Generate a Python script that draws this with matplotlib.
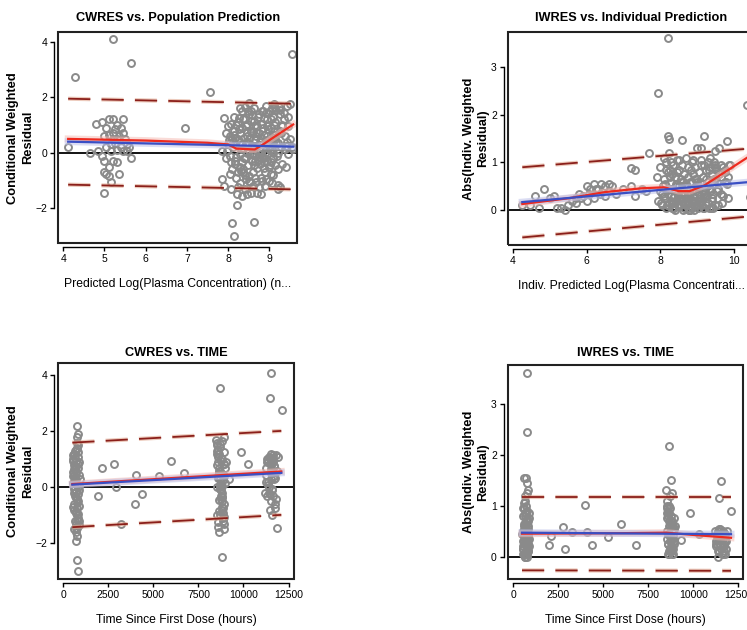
import numpy as np
import matplotlib
matplotlib.use("Agg")
import matplotlib.pyplot as plt
from matplotlib.patches import Rectangle

plt.rcParams['font.family'] = ['Liberation Sans', 'DejaVu Sans']

# ---- Panel 1: CWRES vs PRED ----
pred_x = [4.28, 5.2, 5.65, 7.57, 9.55, 6.95, 4.12, 5.0, 8.1, 8.15, 8.63, 8.22,
          4.65, 4.8, 4.95, 5.05, 5.1, 5.2, 5.3, 5.45, 5.4, 5.0, 5.1, 5.2, 5.3, 5.35, 5.5, 5.15,
          5.25, 5.05, 5.4, 5.55, 5.6, 5.65, 5.0, 4.95, 5.1, 5.2, 5.3, 5.0, 5.05, 5.1, 5.15, 5.35,
          5.15, 5.3, 5.45, 5.55, 4.85, 5.25, 5.35, 5.2, 5.45,
          7.85, 7.9, 7.95, 7.85, 7.9, 8.0, 8.05, 8.0, 8.05, 8.1, 8.08, 8.15, 8.15, 8.12, 8.18, 8.2,
          8.22, 8.25, 8.25, 8.28, 8.3, 8.3, 8.33, 8.35, 8.35, 8.38, 8.4, 8.4, 8.42, 8.45, 8.45, 8.48,
          8.5, 8.5, 8.52, 8.55, 8.55, 8.58, 8.6, 8.6, 8.62, 8.65, 8.65, 8.68, 8.7, 8.7, 8.72, 8.75,
          8.75, 8.78, 8.8, 8.8, 8.82, 8.85, 8.85, 8.88, 8.9, 8.9, 8.92, 8.95, 8.95, 8.98, 9.0, 9.0,
          9.02, 9.05, 9.05, 9.08, 9.1, 9.12, 9.15, 9.15, 9.18, 9.2, 9.22, 9.25, 9.25, 9.28, 9.3, 9.35,
          9.38, 9.4, 9.42, 9.45, 9.45, 9.5, 9.55, 9.58, 9.5, 9.25, 9.2, 8.45, 8.55, 8.35, 8.2, 8.4,
          8.6, 8.9, 9.1, 8.3, 8.7, 9.0, 8.5, 8.8, 9.1, 8.65, 8.95, 8.25, 8.45,
          8.32, 8.43, 8.57, 8.67, 8.77, 8.87, 8.97, 9.07, 9.17, 8.37, 8.47, 8.63, 8.73, 8.83, 8.93,
          9.03, 9.13, 8.28, 8.52, 8.62, 8.78, 8.88, 9.02, 9.12, 9.22, 8.18, 8.42, 8.58, 8.68, 8.82,
          8.92, 9.08, 9.32, 9.37, 9.43, 8.1, 8.05, 7.98, 8.36, 8.74, 9.06, 9.27, 8.55, 8.85, 9.15]
pred_y = [2.75, 4.1, 3.22, 2.18, 3.57, 0.88, 0.22, -1.45, -2.55, -3.0, -2.5, -1.9,
          0.0, 1.05, 1.1, 0.9, 1.2, 1.2, 1.0, 1.2, 0.9, 0.6, 0.65, 0.7, 0.5, 0.6, 0.5, 0.3,
          0.35, 0.2, 0.2, 0.3, 0.2, -0.2, -0.3, -0.1, -0.5, -0.3, -0.35, -0.7, -0.75, -0.85, -1.05, -0.75,
          0.05, 0.1, 0.05, 0.05, 0.05, 0.85, 0.45, 0.5, 0.7,
          0.05, 1.25, 0.7, -0.95, -1.2, 0.95, 0.6, 0.3, -0.1, -0.6, -1.3, 1.3, 0.8, 0.2, -0.3, -0.9,
          -1.5, 1.1, 0.5, -0.05, -0.5, -1.1, 1.5, 0.9, 0.3, -0.2, -0.8, -1.3, 1.2, 0.6, 0.0, -0.45,
          1.8, -1.0, 1.4, 0.8, 0.2, -0.3, -0.7, -1.2, 1.6, 1.0, 0.45, -0.1, -0.55, -1.45, 1.3, 0.7,
          0.1, -0.4, -0.9, -1.5, 1.5, 0.9, 0.3, -0.2, -0.7, -1.2, 1.7, 1.2, 0.6, 0.0, -0.5, -1.0,
          1.5, 0.9, 0.4, -0.2, -0.8, 1.75, 1.1, 0.5, -0.1, -0.6, -1.3, 1.4, 0.8, 0.2, -0.4, 1.2,
          0.6, -0.5, 1.7, 0.95, -0.05, 0.5, 0.2, 0.15, 1.75, -1.25, -1.15, -1.5, -1.45, -1.55, 1.0, 1.65,
          0.0, 0.0, 0.0, 0.7, 0.25, 0.25, 0.5, 0.55, 1.3, -0.9, -0.3, -0.7, 1.05,
          0.15, 0.35, -0.05, 0.6, 0.4, -0.35, 0.85, 0.15, 0.35, -0.6, 0.75, 1.15, -0.25, 1.05, 0.45,
          -0.75, 0.65, 0.4, -0.85, 0.25, 0.05, 1.25, -0.45, 1.0, 0.0, -0.4, -0.2, 1.35, -1.05, -1.0,
          1.45, 0.3, 0.95, 0.15, 0.4, 0.5, -0.75, 0.05, 1.2, -0.15, -1.1, 1.55, 0.75, 1.5, 1.6]
pred_x_dense = [8.02, 8.08, 8.14, 8.2, 8.26, 8.32, 8.38, 8.44, 8.5, 8.56,
                8.62, 8.68, 8.74, 8.8, 8.86, 8.92, 8.98, 9.04, 9.1, 9.16,
                8.24, 8.34, 8.44, 8.54, 8.64, 8.74, 8.84, 8.94, 9.04, 9.14,
                8.16, 8.26, 8.36, 8.46, 8.56, 8.66, 8.76, 8.86, 8.96, 9.06,
                8.41, 8.51, 8.61, 8.71, 8.81, 8.91, 9.01, 9.11, 9.21, 9.31,
                9.36, 9.41, 9.46, 9.24, 9.29, 8.06, 8.11, 7.96, 8.29, 8.49]
pred_y_dense = [0.45, -0.35, 0.65, -0.15, 0.85, -0.65, 0.55, -0.95, 0.05, 1.15,
                -0.45, 0.75, -0.25, 1.05, -0.55, 0.35, 1.45, -0.35, 0.65, 1.55,
                -1.25, -0.35, 0.95, -1.05, 0.25, -1.25, -0.15, 0.95, 1.2, -0.45,
                0.55, 1.25, -0.7, 0.4, 1.5, -0.3, 1.4, 0.65, 0.3, 1.6,
                -0.2, 0.1, 0.75, 0.95, -0.05, -0.95, 0.1, 0.8, 0.35, 1.0,
                1.45, 0.25, 1.3, 1.65, 0.7, 1.05, 0.4, -0.2, 1.6, 1.5]
pred_lin_x = [4.12, 9.58]
pred_lin_y = [0.40, 0.22]
pred_loess_x = [4.12, 6.0, 7.5, 8.0, 8.2, 8.65, 8.85, 9.1, 9.58]
pred_loess_y = [0.50, 0.44, 0.36, 0.30, 0.15, 0.12, 0.30, 0.55, 1.02]
pred_up_x = [4.12, 9.58]
pred_up_y = [1.95, 1.77]
pred_lo_x = [4.12, 9.58]
pred_lo_y = [-1.15, -1.32]

# ---- Panel 2: |IWRES| vs IPRED ----
ipred_x = [8.2, 7.93, 10.35, 10.45, 8.2, 8.25, 8.6, 9.2, 9.8, 9.0, 9.1, 7.7, 7.2, 7.3, 9.5, 9.6,
           4.25, 4.45, 4.6, 4.7, 4.85, 5.0, 5.1, 5.2, 5.4, 5.3, 5.5, 5.6, 5.7, 5.8, 5.9, 6.0, 6.1,
           6.2, 6.3, 6.4, 6.35, 6.5, 6.6, 6.7, 6.8, 6.5, 6.2, 6.0, 7.0, 7.2, 7.3, 7.5, 7.6, 5.7,
           6.05, 6.25, 6.6, 5.85,
           7.9, 7.95, 8.0, 8.0, 8.05, 8.1, 8.1, 8.15, 8.15, 8.2, 8.2, 8.25, 8.25, 8.3, 8.3, 8.35,
           8.35, 8.4, 8.4, 8.45, 8.45, 8.5, 8.5, 8.55, 8.55, 8.6, 8.6, 8.65, 8.65, 8.7, 8.7, 8.75,
           8.75, 8.8, 8.8, 8.85, 8.85, 8.9, 8.9, 8.95, 8.95, 9.0, 9.0, 9.05, 9.05, 9.1, 9.1, 9.15,
           9.15, 9.2, 9.2, 9.25, 9.25, 9.3, 9.3, 9.35, 9.35, 9.4, 9.4, 9.45, 9.5, 9.5, 9.55, 9.6,
           9.65, 9.7, 9.75, 9.8, 9.85, 9.9, 8.12, 8.22, 8.32, 8.42, 8.52, 8.62, 8.72, 8.82, 8.92,
           9.02, 9.12, 9.22, 9.32, 9.42, 8.18, 8.28, 8.38, 8.48, 8.58, 8.68, 8.78, 8.88, 8.98, 9.08,
           9.18, 9.28, 9.38, 9.48, 8.07, 8.33, 8.57, 8.83, 9.07, 9.33, 9.58, 9.68, 9.78, 8.47, 8.77,
           9.03, 9.23, 8.27, 8.63, 8.93, 9.13, 9.43]
ipred_y = [3.6, 2.45, 2.2, 0.28, 1.55, 1.5, 1.48, 1.55, 1.45, 1.3, 1.3, 1.2, 0.88, 0.85, 1.25, 1.3,
           0.1, 0.1, 0.3, 0.05, 0.45, 0.25, 0.3, 0.05, 0.0, 0.05, 0.1, 0.2, 0.25, 0.35, 0.3, 0.5, 0.45,
           0.55, 0.45, 0.55, 0.35, 0.5, 0.4, 0.5, 0.35, 0.3, 0.25, 0.2, 0.45, 0.5, 0.3, 0.45, 0.4, 0.15,
           0.35, 0.45, 0.55, 0.25,
           0.7, 0.2, 0.9, 0.4, 0.1, 0.65, 0.3, 1.0, 0.05, 0.8, 0.45, 1.2, 0.15, 0.6, 0.3, 0.95,
           0.05, 0.7, 0.4, 1.05, 0.2, 0.85, 0.5, 0.1, 0.65, 0.35, 0.95, 0.05, 0.75, 0.25, 0.55, 0.9,
           0.15, 0.6, 0.35, 1.0, 0.05, 0.75, 0.45, 0.2, 0.9, 0.6, 0.1, 0.8, 0.35, 1.05, 0.15, 0.7,
           0.4, 0.95, 0.05, 0.85, 0.3, 0.6, 0.15, 1.1, 0.45, 0.75, 0.25, 0.55, 0.9, 0.1, 0.4, 0.75,
           0.95, 0.3, 0.85, 0.55, 0.25, 0.95, 0.55, 0.35, 0.15, 0.5, 0.25, 0.6, 0.2, 0.45, 0.3,
           0.5, 0.25, 0.4, 0.85, 0.35, 0.1, 0.2, 0.05, 0.3, 0.45, 0.15, 0.0, 0.3, 0.1, 0.2,
           0.35, 0.5, 0.05, 0.65, 0.5, 0.75, 0.25, 0.85, 0.6, 0.05, 0.1, 0.15, 0.6, 0.1, 0.0,
           0.05, 0.65, 0.85, 0.0, 0.0, 0.1, 0.05]
ipred_x_dense = [8.02, 8.08, 8.14, 8.2, 8.26, 8.32, 8.38, 8.44, 8.5, 8.56,
                 8.62, 8.68, 8.74, 8.8, 8.86, 8.92, 8.98, 9.04, 9.1, 9.16,
                 9.22, 9.28, 9.34, 9.4, 9.46, 9.52, 9.58, 9.64, 9.7, 9.76,
                 8.05, 8.15, 8.25, 8.35, 8.45, 8.55, 8.65, 8.75, 8.85, 8.95,
                 9.05, 9.15, 9.25, 9.35, 9.45, 9.55, 9.65, 9.75, 9.85, 9.88,
                 8.1, 8.3, 8.5, 8.7, 8.9, 9.1, 9.3, 9.5, 8.4, 8.8]
ipred_y_dense = [0.15, 0.5, 0.25, 0.1, 0.7, 0.05, 0.3, 0.55, 0.1, 0.35,
                 0.15, 0.5, 0.05, 0.25, 0.6, 0.1, 0.4, 0.2, 0.55, 0.05,
                 0.3, 0.5, 0.9, 0.2, 0.65, 0.85, 0.45, 0.7, 0.9, 0.6,
                 0.35, 0.85, 0.45, 0.15, 0.8, 0.6, 0.35, 0.7, 0.2, 0.65,
                 0.45, 0.25, 0.1, 0.4, 1.0, 0.6, 0.35, 0.8, 0.7, 0.95,
                 1.1, 1.0, 1.05, 1.1, 1.05, 0.95, 1.0, 0.95, 0.0, 0.0]
ipred_lin_x = [4.25, 10.56]
ipred_lin_y = [0.17, 0.60]
ipred_loess_x = [4.25, 5.5, 6.5, 7.5, 8.1, 8.5, 8.8, 9.2, 9.8, 10.56]
ipred_loess_y = [0.13, 0.25, 0.38, 0.46, 0.48, 0.40, 0.40, 0.52, 0.82, 1.20]
ipred_up_x = [4.25, 10.56]
ipred_up_y = [0.90, 1.30]
ipred_lo_x = [4.25, 10.56]
ipred_lo_y = [-0.57, -0.12]

# ---- Panel 3: CWRES vs TIME ----
time_c_x = [780, 800, 700, 2150, 1950, 2800, 2900, 3200, 4050, 4000, 4350, 5300, 6000, 6700,
            9850, 10250, 9200, 9050, 8700, 8800, 11500, 11450, 12150,
            760, 820, 650, 700, 550, 600, 750, 850, 900, 620, 680, 720, 800, 560, 640, 700, 760,
            820, 880, 580, 660, 740, 790, 860, 610, 690, 770, 840, 530, 630, 710, 780, 870, 600,
            680, 750, 830, 560, 650, 730, 810, 890, 620, 700, 760, 640, 720, 800, 590, 670, 740,
            8500, 8550, 8600, 8650, 8700, 8750, 8800, 8850, 8900, 8950, 8520, 8580, 8640, 8700,
            8760, 8820, 8880, 8940, 8530, 8600, 8680, 8740, 8800, 8860, 8920, 8550, 8620, 8690,
            8770, 8830, 8900, 8510, 8570, 8650, 8720, 8790, 8870, 8930, 8600, 8700, 8800, 8900,
            11200, 11250, 11300, 11350, 11400, 11450, 11500, 11550, 11600, 11650, 11700, 11750,
            11800, 11850, 11900, 11300, 11400, 11500, 11600, 11700, 11800, 11250, 11350, 11450,
            11550, 11650, 11750, 11850, 11500, 11600, 11400, 11550, 11700, 11650]
time_c_y = [-2.6, -3.0, -1.9, 0.7, -0.3, 0.82, 0.0, -1.3, 0.45, -0.6, -0.25, 0.4, 0.95, 0.5,
            1.25, 0.85, 0.3, 0.9, 3.55, -2.5, 4.1, 3.2, 2.75,
            2.2, 1.9, 1.05, 1.35, 1.0, 1.2, 1.6, 0.9, 0.3, 0.8, 0.6, 0.5, 0.7, 0.4, 0.2, 0.3, 0.1,
            0.0, -0.1, -0.2, -0.3, -0.4, -0.5, -0.65, -0.8, -0.9, -1.0, -1.1, -0.7, -1.2, -1.3, -1.45,
            -1.2, -1.5, -1.6, 1.4, 1.1, 0.55, 0.15, 0.9, 1.25, 0.45, -0.05, -0.35, 1.8, 0.65,
            -0.85, -0.25, 0.05, 0.35, -1.75,
            1.7, 1.3, 0.9, 0.5, 0.1, -0.3, -0.7, -1.1, -1.5, 0.7, 1.5, 1.1, 0.7, 0.3, -0.1,
            -0.5, -0.9, -1.3, 0.8, 0.4, 0.0, -0.4, -0.8, -1.2, 1.8, 1.6, 1.2, 0.6, 0.2, -0.2, -0.6,
            -1.0, -1.4, -1.6, -1.0, -0.35, 0.25, 0.85, 1.35, 1.45, 1.0, 0.4, -0.2,
            0.7, -0.3, 0.2, 1.1, -0.8, 0.5, 1.2, -0.1, 0.9, 0.3, -0.6, 1.15, 0.6, 1.1, 0.9,
            0.0, 0.8, -1.0, 0.4, -0.4, 0.2, 0.1, 1.0, -0.5, 1.15, -0.75, -1.45, 0.95, 0.6, -0.2,
            0.3, 0.75, -0.3]
time_c_x_dense = [540, 600, 660, 720, 780, 840, 560, 620, 680, 740,
                  800, 860, 580, 640, 700, 760, 820, 880, 520, 690,
                  8520, 8580, 8640, 8700, 8760, 8820, 8880, 8940, 8560, 8620,
                  8680, 8740, 8800, 8860, 8920, 8980, 8540, 8660, 8780, 8900,
                  11250, 11350, 11450, 11550, 11650, 11750, 11300, 11500, 11700, 11600]
time_c_y_dense = [0.95, 0.65, 0.25, -0.15, -0.55, -0.95, 1.15, 0.45, -0.35, -1.15,
                  0.85, 0.05, -0.6, 1.3, 0.75, -0.75, 1.5, -1.35, 0.15, -1.45,
                  1.2, 0.35, -0.45, 1.55, 0.95, 0.05, -0.75, 1.25, -1.25, 0.6,
                  -0.05, 1.05, -0.35, 0.45, -1.05, 0.15, 0.0, -0.85, 1.65, 0.85,
                  0.45, 0.95, -0.25, 0.65, 1.05, 0.35, 1.0, 0.85, 0.75, -0.05]
time_c_lin_x = [500, 12100]
time_c_lin_y = [0.10, 0.52]
time_c_loess_x = [500, 12100]
time_c_loess_y = [0.12, 0.57]
time_c_up_x = [500, 12100]
time_c_up_y = [1.60, 2.02]
time_c_lo_x = [500, 12100]
time_c_lo_y = [-1.42, -0.98]

# ---- Panel 4: |IWRES| vs TIME ----
time_i_x = [780, 780, 2000, 2100, 2800, 2900, 3300, 4000, 4100, 4400, 5300, 6000, 6800, 9850,
            9350, 10300, 12100, 8650, 8750, 11550, 11450,
            620, 700, 760, 820, 560, 650, 730, 800, 880, 600, 680, 750, 830, 540, 640, 710, 790,
            860, 610, 690, 770, 840, 580, 660, 740, 810, 890, 630, 720, 780, 570, 650, 700, 760,
            850, 600, 680, 740, 820, 550, 630, 710, 790, 870, 690, 750, 620,
            8500, 8550, 8600, 8650, 8700, 8750, 8800, 8850, 8900, 8950, 8520, 8580, 8640, 8700,
            8760, 8820, 8880, 8940, 8530, 8600, 8680, 8740, 8800, 8860, 8920, 8550, 8620, 8690,
            8770, 8830, 8900, 8650, 8720, 8800,
            11200, 11250, 11300, 11350, 11400, 11450, 11500, 11550, 11600, 11650, 11700, 11750,
            11800, 11850, 11300, 11400, 11500, 11600, 11700, 11800, 11250, 11350, 11450, 11550,
            11650, 11750]
time_i_y = [3.6, 2.45, 0.23, 0.4, 0.58, 0.15, 0.48, 1.02, 0.48, 0.23, 0.38, 0.65, 0.22, 0.85,
            0.32, 0.45, 0.9, 2.17, 1.5, 1.48, 1.15,
            1.55, 1.55, 1.45, 1.3, 0.8, 1.2, 1.0, 0.9, 0.75, 0.6, 0.5, 0.45, 0.35, 0.3, 0.25, 0.2,
            0.15, 0.1, 0.05, 0.0, 0.05, 0.1, 0.2, 0.35, 0.55, 0.7, 0.85, 1.05, 0.65, 0.4, 0.15,
            0.3, 0.5, 0.75, 0.25, 0.95, 0.6, 0.1, 0.45, 0.05, 0.65, 0.85, 0.2, 0.35, 1.1, 0.0, 0.4,
            1.3, 1.0, 0.8, 0.6, 0.4, 0.2, 0.05, 0.7, 0.5, 0.3, 1.1, 0.9, 0.1, 1.2, 0.65, 0.35,
            0.15, 0.55, 0.75, 0.25, 0.45, 0.95, 0.1, 0.6, 0.3, 0.85, 0.05, 0.4, 0.7, 0.2, 0.55,
            1.0, 0.3, 0.15,
            0.5, 0.3, 0.45, 0.1, 0.35, 0.55, 0.2, 0.4, 0.05, 0.5, 0.25, 0.45, 0.15, 0.5, 0.25,
            0.0, 0.35, 0.45, 0.1, 0.3, 0.2, 0.4, 0.5, 0.15, 0.35, 0.05]
time_i_x_dense = [540, 600, 660, 720, 780, 840, 560, 620, 680, 740,
                  800, 860, 580, 640, 700, 760, 820, 880, 520, 690,
                  8520, 8580, 8640, 8700, 8760, 8820, 8880, 8940, 8560, 8620,
                  8680, 8740, 8800, 8860, 8920, 8980, 8540, 8660, 8780, 8900,
                  11250, 11350, 11450, 11550, 11650, 11750, 11300, 11500, 11700, 11600]
time_i_y_dense = [0.15, 0.45, 0.8, 0.05, 0.35, 0.6, 0.95, 0.25, 0.55, 0.7,
                  0.15, 0.4, 0.5, 0.0, 0.3, 1.25, 0.55, 0.2, 0.45, 0.85,
                  0.5, 0.25, 0.85, 0.15, 0.6, 0.35, 0.05, 0.75, 0.95, 0.45,
                  0.7, 0.1, 1.25, 0.5, 0.25, 0.6, 0.35, 0.05, 0.8, 0.4,
                  0.25, 0.5, 0.1, 0.35, 0.05, 0.3, 0.4, 0.55, 0.2, 0.45]
time_i_lin_x = [500, 12100]
time_i_lin_y = [0.47, 0.44]
time_i_loess_x = [500, 6000, 8500, 10200, 12100]
time_i_loess_y = [0.45, 0.46, 0.47, 0.42, 0.37]
time_i_up_x = [500, 12100]
time_i_up_y = [1.18, 1.18]
time_i_lo_x = [500, 12100]
time_i_lo_y = [-0.27, -0.28]

titles = ["CWRES vs. Population Prediction", "IWRES vs. Individual Prediction",
          "CWRES vs. TIME", "IWRES vs. TIME"]
xlabels = ["Predicted Log(Plasma Concentration) (n...", "Indiv. Predicted Log(Plasma Concentrati...",
           "Time Since First Dose (hours)", "Time Since First Dose (hours)"]
ylabels = ["Conditional Weighted\nResidual", "Abs(Indiv. Weighted\nResidual)",
           "Conditional Weighted\nResidual", "Abs(Indiv. Weighted\nResidual)"]

fig = plt.figure(figsize=(7.47, 6.3), dpi=100)

positions = [[0.078, 0.614, 0.320, 0.335],
             [0.680, 0.611, 0.330, 0.338],
             [0.078, 0.081, 0.315, 0.343],
             [0.680, 0.081, 0.315, 0.340]]
title_pads = [8, 8, 5, 6]


def draw_panel(pos, x, y, lin, loess, up, lo, xlim, ylim, xticks, yticks, title, xlabel, ylabel, tpad):
    ax = fig.add_axes(pos)
    ax.axhline(0, color='black', lw=1.3, zorder=1)
    ax.plot(x, y, 'o', mfc='none', mec='#8a8a8a', mew=1.4, ms=5.0, zorder=2)
    # dashed prediction bounds
    for bx, by in (up, lo):
        ax.plot(bx, by, color='#e0a890', lw=3.0, alpha=0.6, dashes=(5.3, 2.7), zorder=3)
        ax.plot(bx, by, color='#8b1f1a', lw=1.3, dashes=(12.3, 6.2), zorder=3)
    # smooth + linear fit
    ax.plot(loess[0], loess[1], color='#f5b8b0', lw=5, alpha=0.5, zorder=4)
    ax.plot(lin[0], lin[1], color='#b8bde8', lw=5, alpha=0.5, zorder=4)
    ax.plot(loess[0], loess[1], color='#ee2a1e', lw=1.6, zorder=5)
    ax.plot(lin[0], lin[1], color='#3a4fc4', lw=1.6, zorder=5)

    ax.set_xlim(*xlim)
    ax.set_ylim(*ylim)
    ax.set_xticks(xticks)
    ax.set_yticks(yticks)
    for s in ('top', 'right'):
        ax.spines[s].set_visible(False)
    for s in ('left', 'bottom'):
        ax.spines[s].set_position(('outward', 3))
        ax.spines[s].set_linewidth(1.0)
    ax.spines['bottom'].set_bounds(xticks[0], xticks[-1])
    ax.spines['left'].set_bounds(yticks[0], yticks[-1])
    ax.add_patch(Rectangle((0, 0), 1, 1, transform=ax.transAxes, fill=False,
                           ec='#222222', lw=1.5, clip_on=False, zorder=6))
    ax.tick_params(labelsize=7.5, length=3, width=1.0, pad=2)
    ax.set_title(title, fontsize=9.2, fontweight='bold', pad=tpad)
    ax.set_xlabel(xlabel, fontsize=8.7, labelpad=10)
    ax.set_ylabel(ylabel, fontsize=9.3, fontweight='bold', labelpad=1, linespacing=1.3)
    return ax


draw_panel(positions[0], pred_x + pred_x_dense, pred_y + pred_y_dense,
           (pred_lin_x, pred_lin_y), (pred_loess_x, pred_loess_y),
           (pred_up_x, pred_up_y), (pred_lo_x, pred_lo_y), (3.88, 9.68), (-3.26, 4.35),
           [4, 5, 6, 7, 8, 9], [-2, 0, 2, 4], titles[0], xlabels[0], ylabels[0], title_pads[0])
draw_panel(positions[1], ipred_x + ipred_x_dense, ipred_y + ipred_y_dense,
           (ipred_lin_x, ipred_lin_y), (ipred_loess_x, ipred_loess_y),
           (ipred_up_x, ipred_up_y), (ipred_lo_x, ipred_lo_y), (3.86, 10.56), (-0.73, 3.73),
           [4, 6, 8, 10], [0, 1, 2, 3], titles[1], xlabels[1], ylabels[1], title_pads[1])
draw_panel(positions[2], time_c_x + time_c_x_dense, time_c_y + time_c_y_dense,
           (time_c_lin_x, time_c_lin_y), (time_c_loess_x, time_c_loess_y),
           (time_c_up_x, time_c_up_y), (time_c_lo_x, time_c_lo_y), (-280, 12780), (-3.27, 4.45),
           [0, 2500, 5000, 7500, 10000, 12500], [-2, 0, 2, 4], titles[2], xlabels[2], ylabels[2],
           title_pads[2])
draw_panel(positions[3], time_i_x + time_i_x_dense, time_i_y + time_i_y_dense,
           (time_i_lin_x, time_i_lin_y), (time_i_loess_x, time_i_loess_y),
           (time_i_up_x, time_i_up_y), (time_i_lo_x, time_i_lo_y), (-280, 12780), (-0.44, 3.77),
           [0, 2500, 5000, 7500, 10000, 12500], [0, 1, 2, 3], titles[3], xlabels[3], ylabels[3],
           title_pads[3])

fig.savefig("out.png", dpi=100)
